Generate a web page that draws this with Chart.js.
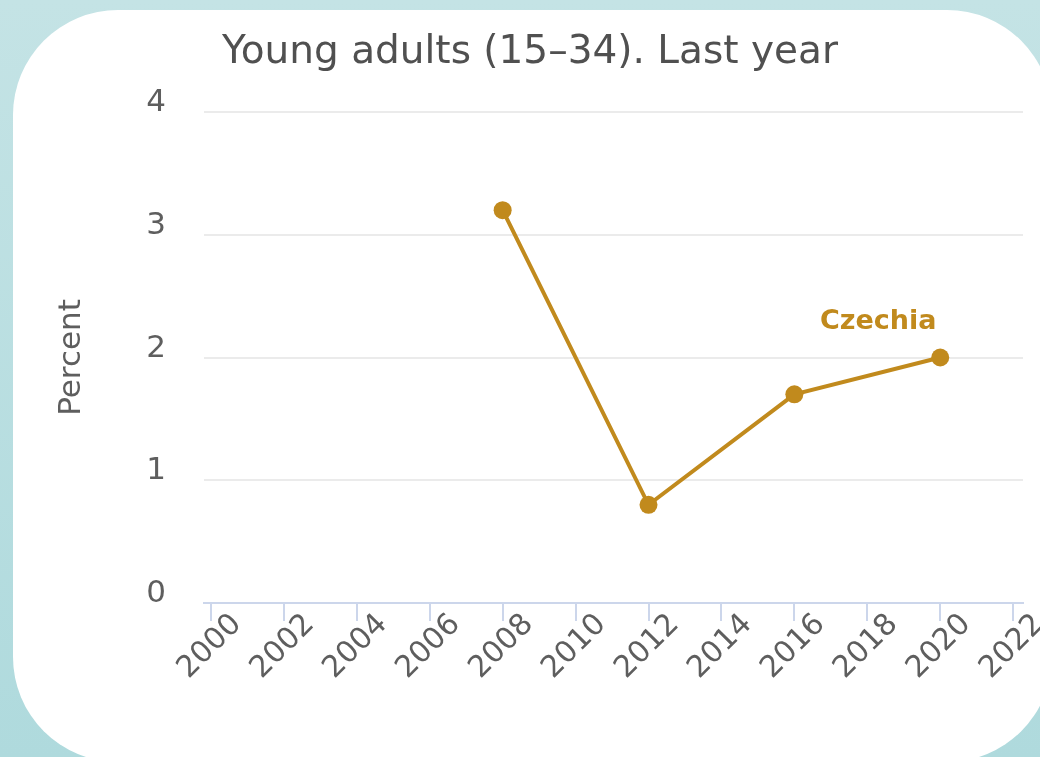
<!DOCTYPE html>
<html>
<head>
<meta charset="utf-8">
<script src="https://cdn.jsdelivr.net/npm/chart.js@4.4.1/dist/chart.umd.min.js"></script>
<style>
  html, body { margin: 0; padding: 0; width: 1040px; height: 757px; overflow: hidden; }
  body { position: relative; background: linear-gradient(#c4e3e5, #afdadd); }
  .card { position: absolute; left: 13px; top: 10px; width: 1039px; height: 752px; background: #fff; border-radius: 105px; }
  .chart-box { position: absolute; left: 0; top: 0; width: 1040px; height: 757px; }
</style>
</head>
<body>
<div class="card"></div>
<div class="chart-box"><canvas id="prevChart" width="1040" height="757"></canvas></div>
<script>
// --- data ---
let chartTitle = 'Young adults (15\u201334). Last year';
let seriesName = 'Czechia';
let years = [2008, 2012, 2016, 2020];
let czechia = [3.2, 0.8, 1.7, 2.0];
let xTicks = [2000, 2002, 2004, 2006, 2008, 2010, 2012, 2014, 2016, 2018, 2020, 2022];
let yTicks = [0, 1, 2, 3, 4];
let yTitle = 'Percent';

let lineColor = '#c18a1d';
let labelColor = '#5e5e5e';
Chart.defaults.font.family = '"DejaVu Sans", sans-serif';

// title + series label drawn on top
let extraText = {
  id: 'extraText',
  afterDraw(chart) {
    let ctx = chart.ctx;
    ctx.save();
    ctx.fillStyle = '#505050';
    ctx.font = '39px "DejaVu Sans"';
    ctx.textAlign = 'center';
    ctx.textBaseline = 'alphabetic';
    ctx.fillText(chartTitle, 530, 63);

    let meta = chart.getDatasetMeta(0);
    let last = meta.data[meta.data.length - 1];
    ctx.fillStyle = lineColor;
    ctx.font = 'bold 27px "DejaVu Sans"';
    ctx.textBaseline = 'middle';
    ctx.fillText(seriesName, last.x - 62, last.y - 36);
    ctx.restore();
  }
};

new Chart(document.getElementById('prevChart'), {
  type: 'line',
  data: {
    datasets: [{
      label: seriesName,
      data: years.map((y, i) => ({ x: y, y: czechia[i] })),
      borderColor: lineColor,
      backgroundColor: lineColor,
      pointBackgroundColor: lineColor,
      pointBorderWidth: 0,
      pointRadius: 9,
      borderWidth: 4,
      tension: 0
    }]
  },
  options: {
    responsive: false,
    devicePixelRatio: 1,
    animation: false,
    layout: { padding: { top: 112, right: 17, bottom: 0, left: 0 } },
    plugins: {
      legend: { display: false },
      tooltip: { enabled: false }
    },
    scales: {
      x: {
        type: 'linear',
        min: 1999.81,
        max: 2022.27,
        afterBuildTicks: s => { s.ticks = xTicks.map(v => ({ value: v })); },
        afterFit: s => { s.height = 154; },
        ticks: {
          autoSkip: false,
          minRotation: 45,
          maxRotation: 45,
          padding: -14,
          labelOffset: 26,
          color: labelColor,
          font: { size: 30 },
          callback: v => String(v)
        },
        grid: { drawOnChartArea: false, tickLength: 18, color: '#ccd6eb', lineWidth: 2 },
        border: { color: '#ccd6eb', width: 2 }
      },
      y: {
        min: 0,
        max: 4,
        afterBuildTicks: s => { s.ticks = yTicks.map(v => ({ value: v })); },
        afterFit: s => { s.width = 204; },
        ticks: {
          padding: 38,
          labelOffset: -9,
          color: labelColor,
          font: { size: 31 }
        },
        grid: { color: '#ebebeb', lineWidth: 2, drawTicks: false },
        border: { display: false },
        title: {
          display: true,
          text: yTitle,
          color: labelColor,
          font: { size: 31 },
          padding: { top: 53, bottom: 0 }
        }
      }
    }
  },
  plugins: [extraText]
});
</script>
</body>
</html>
